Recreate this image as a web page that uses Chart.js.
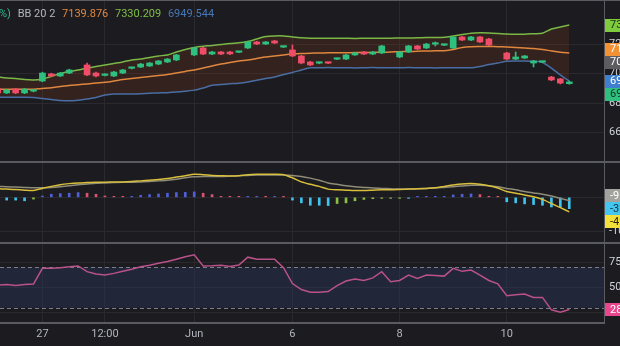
<!DOCTYPE html>
<html>
<head>
<meta charset="utf-8">
<script src="https://cdn.jsdelivr.net/npm/chart.js@4.4.1/dist/chart.umd.min.js"></script>
<style>
  html, body { margin: 0; padding: 0; background: #1c1b1f; overflow: hidden; }
  #wrap { position: relative; width: 620px; height: 346px; }
  canvas { display: block; }
  #legend { position: absolute; left: -1px; top: 7px; font: 11px Roboto, "Noto Sans", sans-serif;
            white-space: nowrap; color: #b4b6bd; }
  #legend span { margin-right: 4px; }
</style>
</head>
<body>
<div id="wrap">
  <canvas id="c" width="620" height="346"></canvas>
  <div id="legend">
    <span style="color:#2fb98a">%)</span>
    <span>BB 20 2</span>
    <span id="lgMid" style="color:#e0873f"></span>
    <span id="lgUp" style="color:#7fbf45"></span>
    <span id="lgLow" style="color:#4677b8"></span>
  </div>
</div>
<script>
// ---- x axis: candle slots and the dates shown under them ----
const tickIndex  = [5, 12, 22, 33, 45, 57];
const tickLabels = ['27', '12:00', 'Jun', '6', '8', '10'];

// ---- price candles (null = no candle in that slot) ----
const openP  = [6896, 6869, 6896, 6869, 6881, 6950, 6998, 6984, 7004, null, 7059, 7004, 6988, 6984, 7004, 7036, 7045, 7052, 7065, 7079, 7093, null, 7127, 7174, 7133, 7147, 7147, 7145, 7174, 7215, 7201, 7222, 7180, 7161, 7120, 7079, 7071, 7073, 7098, 7099, 7127, 7147, 7133, 7140, null, 7113, 7147, 7188, 7174, 7200, 7193, 7174, 7249, 7228, 7249, 7235, null, 7140, 7099, 7106, 7072, 7078, 6977, 6964, 6932];
const highP  = [6902, 6893, 6900, 6899, 6888, 7010, 7003, 7008, 7030, null, 7072, 7010, 6998, 7015, 7029, 7044, 7070, 7076, 7090, 7103, 7131, null, 7179, 7180, 7151, 7151, 7151, 7152, 7220, 7220, 7219, 7226, 7187, 7194, 7125, 7084, 7078, 7077, 7105, 7131, 7144, 7151, 7151, 7192, null, 7151, 7192, 7192, 7206, 7215, 7200, 7253, 7253, 7253, 7253, 7240, null, 7145, 7147, 7124, 7090, 7083, 6982, 6968, 6950];
const lowP   = [6862, 6864, 6864, 6864, 6876, 6945, 6979, 6980, 7000, null, 6986, 6978, 6984, 6980, 7000, 7032, 7041, 7048, 7061, 7075, 7088, null, 7122, 7128, 7129, 7129, 7129, 7142, 7170, 7197, 7197, 7204, 7177, 7115, 7067, 7054, 7067, 7067, 7094, 7095, 7123, 7129, 7129, 7136, null, 7108, 7143, 7163, 7170, 7188, 7190, 7170, 7224, 7224, 7210, 7190, null, 7094, 7095, 7102, 7045, 7075, 6952, 6930, 6928];
const closeP = [6869, 6889, 6869, 6895, 6884, 7004, 6984, 7004, 7025, null, 6991, 6984, 6994, 7011, 7025, 7040, 7065, 7072, 7086, 7099, 7127, null, 7174, 7133, 7147, 7133, 7134, 7148, 7215, 7201, 7215, 7208, 7183, 7120, 7072, 7059, 7074, 7071, 7101, 7127, 7140, 7133, 7147, 7188, null, 7147, 7188, 7167, 7201, 7203, 7196, 7249, 7228, 7249, 7215, 7194, null, 7099, 7113, 7120, 7086, 7080, 6957, 6936, 6944];

// ---- Bollinger Bands (20, 2) ----
const bbUpper = [6977, 6970, 6967, 6960, 6957, 6964, 6981, 7001, 7015, 7025, 7038, 7049, 7059, 7069, 7079, 7093, 7099, 7110, 7120, 7127, 7147, 7164, 7178, 7186, 7191, 7198, 7205, 7209, 7218, 7235, 7252, 7256, 7256, 7249, 7243, 7240, 7240, 7240, 7241, 7240, 7239, 7240, 7241, 7240, 7241, 7242, 7242, 7243, 7245, 7245, 7247, 7256, 7266, 7275, 7277, 7276, 7273, 7269, 7267, 7268, 7271, 7274, 7303, 7317, 7330.209];
const bbMid   = [6894, 6894, 6894, 6894, 6894, 6899, 6904, 6913, 6920, 6925, 6930, 6936, 6941, 6950, 6960, 6967, 6974, 6981, 6987, 6994, 7004, 7015, 7025, 7038, 7052, 7065, 7076, 7086, 7093, 7103, 7113, 7120, 7127, 7133, 7137, 7139, 7140, 7141, 7142, 7142, 7143, 7144, 7144, 7145, 7147, 7149, 7150, 7152, 7154, 7155, 7156, 7164, 7178, 7183, 7184, 7184, 7183, 7181, 7178, 7174, 7171, 7164, 7154, 7145, 7139.876];
const bbLower = [6839, 6839, 6839, 6839, 6838, 6831, 6824, 6818, 6816, 6820, 6828, 6838, 6855, 6862, 6862, 6862, 6864, 6867, 6869, 6871, 6875, 6881, 6888, 6903, 6921, 6926, 6931, 6935, 6943, 6955, 6967, 6977, 6994, 7008, 7025, 7040, 7040, 7041, 7040, 7040, 7039, 7040, 7041, 7040, 7040, 7040, 7041, 7040, 7040, 7039, 7040, 7040, 7040, 7040, 7049, 7062, 7072, 7084, 7086, 7086, 7084, 7076, 7038, 6991, 6949.544];
const refPrice = 7079;
const priceTicks = [6600, 6800, 7000, 7200];

// ---- MACD ----
const macdLine   = [25, 24, 23, 21, 20, 26, 32, 37, 40, 42, 43, 44, 44, 45, 45, 46, 48, 50, 52, 55, 59, 63, 67, 66, 64, 63, 62, 63, 66, 67, 67, 67, 66, 57, 45, 38, 32, 24, 22, 21, 20, 20, 21, 22, 22, 23, 24, 25, 26, 28, 32, 36, 39, 40, 38, 34, 27, 17, 12, 7, 2, -6, -18, -30, -42.4];
const signalLine = [32, 31, 30, 29, 28, 28, 29, 31, 34, 37, 39, 41, 42, 43, 44, 44, 45, 46, 48, 50, 53, 57, 60, 61, 61, 61, 62, 63, 64, 65, 65, 65, 65, 64, 61, 56, 50, 42, 38, 34, 31, 29, 27, 26, 25, 24, 24, 25, 26, 27, 29, 31, 33, 35, 35, 34, 31, 26, 22, 17, 13, 9, 4, -3, -9.5];
const macdHist   = [-6, -8, -8, -10, -5, 4, 9, 11, 12, 14, 12, 9, 4, 2, 1, 2, 6, 8, 10, 12, 14, 14.5, 16, 12, 8, 3, 2, 1, 2, 3, 2, 2, 1, -8, -16, -23, -23, -24, -18, -16, -10, -6, -4, -3, -2, -1, -1, 1, 1, 2, 3, 7, 9, 10, 8, 3, 1, -13, -16, -19, -21, -23, -28, -30, -32.9];
const macdTicks  = [-100, 0];

// ---- RSI ----
const rsi = [52.5, 53, 52, 53, 53.5, 69, 69, 69.5, 70.5, 71.3, 65.7, 63.5, 62.5, 64, 66, 68, 70.5, 72, 74, 75.7, 78, 80.5, 82.3, 71.3, 71.5, 72, 70.7, 72.3, 80, 78, 78, 78, 69.7, 54, 48, 45.3, 45.3, 46, 52, 56.5, 58.5, 57, 59.5, 65.7, 55.7, 57, 62.3, 59, 62.3, 62, 61.3, 69, 66, 67.3, 62.3, 57, 53.7, 42, 43, 43.7, 40.3, 40.3, 28, 25.7, 28.4];
const rsiBand  = [30, 70];
const rsiTicks = [25, 50, 75];

// ---- styles ----
const FONT = 'Roboto, "Noto Sans", sans-serif';
const GRID = '#29292e';
const SEP = '#5a5b61';
const UP = '#2fc07f', DOWN = '#ef4d68';
const C_UPPER = '#79b846', C_MID = '#e0873f', C_LOW = '#4a6ea3';
const C_MACD = '#d8bf3c', C_SIGNAL = '#8f8c7a', C_RSI = '#b9528b';

const last = a => a[a.length - 1];
document.getElementById('lgMid').textContent = last(bbMid).toFixed(3);
document.getElementById('lgUp').textContent = last(bbUpper).toFixed(3);
document.getElementById('lgLow').textContent = last(bbLower).toFixed(3);

const slots = closeP.map((_, i) => i);
const live = slots.filter(i => closeP[i] !== null);
const candleColor = live.map(i => closeP[i] >= openP[i] ? UP : DOWN);
const pts = arr => slots.map(i => ({x: i, y: arr[i]}));

const histColor = macdHist.map((v, i) => {
  const prev = i > 0 ? macdHist[i - 1] : v;
  if (v >= 0) return v >= prev ? '#4e5fd8' : '#d9546c';
  return v <= prev ? '#3fc3ec' : '#8cbf45';
});

// tag labels on the right axis, placed in priority order away from each other
const TAG_H = 13;
function placeTags(tags) {
  const placed = [];
  const free = y => placed.every(p => Math.abs(p.py - y) >= TAG_H - 0.01);
  for (const t of tags) {
    if (free(t.y)) t.py = t.y;
    else {
      const cands = [];
      placed.forEach(p => cands.push(p.py - TAG_H, p.py + TAG_H));
      t.py = cands.filter(free).sort((a, b) => Math.abs(a - t.y) - Math.abs(b - t.y))[0];
    }
    placed.push(t);
  }
  return placed;
}

const decor = {
  id: 'decor',
  beforeDatasetsDraw(chart) {
    const {ctx, chartArea: a, scales} = chart;
    const top = scales.y3.getPixelForValue(rsiBand[1]);
    const bot = scales.y3.getPixelForValue(rsiBand[0]);
    ctx.save();
    ctx.fillStyle = 'rgba(42, 56, 92, 0.42)';
    ctx.fillRect(a.left, top, a.right - a.left, bot - top);
    ctx.strokeStyle = '#7b7e88';
    ctx.lineWidth = 1;
    ctx.setLineDash([4, 3]);
    [top, bot].forEach(y => {
      ctx.beginPath();
      ctx.moveTo(a.left, Math.round(y) + 0.5);
      ctx.lineTo(a.right, Math.round(y) + 0.5);
      ctx.stroke();
    });
    ctx.restore();
  },
  afterDraw(chart) {
    const {ctx, chartArea: a, scales} = chart;
    ctx.save();
    // pane separators
    ctx.fillStyle = SEP;
    ctx.fillRect(0, 0, chart.width, 1);
    ctx.fillRect(0, Math.round(scales.y.bottom) - 1, chart.width, 2);
    ctx.fillRect(0, Math.round(scales.y2.bottom) - 1, chart.width, 2);

    const groups = [
      [scales.y, [
        {v: refPrice, bg: '#5d5d61', fg: '#ffffff'},
        {v: last(bbLower), bg: '#3f7fcf', fg: '#ffffff'},
        {v: last(bbUpper), bg: '#7fcb3e', fg: '#1d2a12'},
        {v: last(bbMid), bg: '#f29235', fg: '#ffffff'},
        {v: last(closeP), bg: '#2fc07f', fg: '#103024'}
      ], 3],
      [scales.y2, [
        {v: last(macdHist), bg: '#44c6f0', fg: '#10303c'},
        {v: last(signalLine), bg: '#a3a39d', fg: '#ffffff'},
        {v: last(macdLine), bg: '#f3e03b', fg: '#2a2608'}
      ], 3],
      [scales.y3, [
        {v: last(rsi), bg: '#e8478d', fg: '#ffffff'}
      ], 2]
    ];
    const x0 = a.right + 1;
    ctx.font = '11px ' + FONT;
    ctx.textBaseline = 'middle';
    ctx.textAlign = 'left';
    for (const [scale, tags, dp] of groups) {
      tags.forEach(t => { t.y = scale.getPixelForValue(t.v); });
      placeTags(tags).forEach(t => {
        ctx.fillStyle = t.bg;
        ctx.fillRect(x0, Math.round(t.py - TAG_H / 2), chart.width - x0, TAG_H);
        ctx.fillStyle = t.fg;
        ctx.fillText(t.v.toFixed(dp), x0 + 5, t.py + 0.5);
      });
    }
    ctx.restore();
  }
};

function rightAxis(weight, min, max, ticks, dp) {
  return {
    type: 'linear', position: 'right', stack: 'panes', stackWeight: weight,
    min, max, offset: false,
    afterBuildTicks: s => { s.ticks = ticks.map(v => ({value: v})); },
    ticks: { color: '#d1d4dc', font: {size: 11, family: FONT}, padding: 5,
             callback: v => Number(v).toFixed(dp) },
    grid: { color: GRID, drawTicks: false },
    border: { color: SEP, width: 1 },
    afterFit: s => { s.width = 16; s.paddingTop = 0; s.paddingBottom = 0; }
  };
}

new Chart(document.getElementById('c'), {
  type: 'bar',
  data: {
    datasets: [
      { type: 'bar', label: 'wick', yAxisID: 'y', order: 0, grouped: false,
        data: live.map(i => ({x: i, y: [lowP[i], highP[i]]})),
        backgroundColor: candleColor, barThickness: 1, minBarLength: 1 },
      { type: 'bar', label: 'body', yAxisID: 'y', order: 0, grouped: false,
        data: live.map(i => ({x: i, y: [openP[i], closeP[i]]})),
        backgroundColor: candleColor, barThickness: 6, minBarLength: 1.5 },
      { type: 'line', label: 'BB upper', yAxisID: 'y', order: 2, data: pts(bbUpper),
        borderColor: C_UPPER, borderWidth: 1.5, pointRadius: 0, tension: 0.25,
        fill: '+2', backgroundColor: 'rgba(128, 58, 28, 0.24)' },
      { type: 'line', label: 'BB basis', yAxisID: 'y', order: 1, data: pts(bbMid),
        borderColor: C_MID, borderWidth: 1.5, pointRadius: 0, tension: 0.25, fill: false },
      { type: 'line', label: 'BB lower', yAxisID: 'y', order: 1, data: pts(bbLower),
        borderColor: C_LOW, borderWidth: 1.5, pointRadius: 0, tension: 0.25, fill: false },

      { type: 'bar', label: 'histogram', yAxisID: 'y2', order: 3, grouped: false,
        data: pts(macdHist), backgroundColor: histColor, barThickness: 2, minBarLength: 1 },
      { type: 'line', label: 'signal', yAxisID: 'y2', order: 1, data: pts(signalLine),
        borderColor: C_SIGNAL, borderWidth: 1.5, pointRadius: 0, tension: 0.25 },
      { type: 'line', label: 'MACD', yAxisID: 'y2', order: 0, data: pts(macdLine),
        borderColor: C_MACD, borderWidth: 1.5, pointRadius: 0, tension: 0.25 },

      { type: 'line', label: 'RSI', yAxisID: 'y3', order: 0, data: pts(rsi),
        borderColor: C_RSI, borderWidth: 1.5, pointRadius: 0, tension: 0 }
    ]
  },
  options: {
    responsive: false,
    devicePixelRatio: 1,
    animation: false,
    layout: { padding: 0 },
    plugins: { legend: { display: false }, tooltip: { enabled: false } },
    scales: {
      x: {
        type: 'linear', position: 'bottom', min: 0.25, max: 67.89, offset: false,
        afterBuildTicks: s => { s.ticks = tickIndex.map(v => ({value: v})); },
        ticks: { color: '#b2b5be', font: {size: 11, family: FONT}, padding: 5,
                 maxRotation: 0, autoSkip: false,
                 callback: v => tickLabels[tickIndex.indexOf(v)] ?? '' },
        grid: { color: GRID, drawTicks: false, offset: false },
        border: { color: SEP, width: 2 },
        afterFit: s => { s.height = 23; s.paddingLeft = 0; s.paddingRight = 0; }
      },
      y:  rightAxis(162, 6400, 7500, priceTicks, 3),
      y2: rightAxis(81, -133, 103, macdTicks, 2),
      y3: rightAxis(80, 15, 94, rsiTicks, 2)
    }
  },
  plugins: [decor]
});
</script>
</body>
</html>
